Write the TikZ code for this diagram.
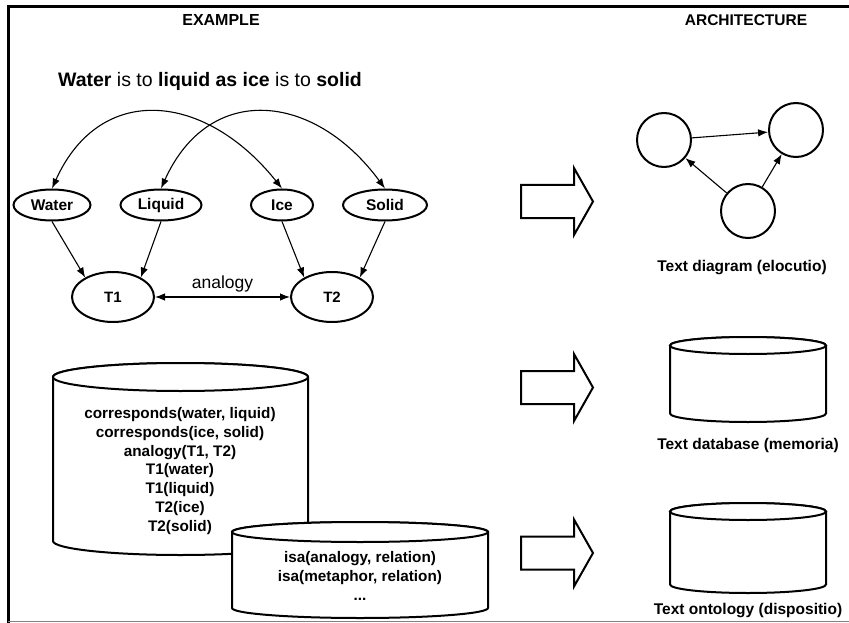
\documentclass[tikz,border=0pt]{standalone}
\usepackage{fontspec}
\setmainfont{Liberation Sans}
\usetikzlibrary{arrows.meta,shapes.geometric}

\begin{document}
\begin{tikzpicture}[x=1pt, y=-1pt,
    concept/.style={ellipse, draw, line width=2pt, inner sep=0pt, minimum height=31pt, font=\fontsize{15.5}{17}\selectfont\bfseries},
    term/.style={ellipse, draw, line width=2pt, inner sep=0pt, minimum width=82pt, minimum height=50pt, font=\fontsize{15}{17}\selectfont\bfseries},
    blob/.style={circle, draw, line width=2pt, inner sep=0pt, minimum size=54pt},
    link/.style={-{Latex[length=10pt, width=7.5pt]}, line width=1.1pt},
    twolink/.style={{Latex[length=10pt, width=7.5pt]}-{Latex[length=10pt, width=7.5pt]}, line width=1.1pt},
    blockarrow/.style={draw, line width=2pt, fill=white},
    cyl/.style={draw, line width=2pt, fill=white},
    caption/.style={font=\fontsize{15.5}{18}\selectfont\bfseries},
    facts/.style={align=center, font=\fontsize{15.3}{18.7}\selectfont\bfseries}]
    \useasboundingbox (0,0) rectangle (849,623);

    % frame
    \draw[line width=3pt] (8,623) -- (8,7) -- (849,7);
    \draw[gray, line width=1pt] (8,621) -- (849,621);

    \node[caption, font=\fontsize{16}{18}\selectfont\bfseries] (exhead) at (221,20) {EXAMPLE};
    \node[caption] (archhead) at (746,20) {ARCHITECTURE};
    \node[font=\fontsize{19.5}{22}\selectfont] (sentence) at (210,81) {\textbf{Water} is to \textbf{liquid as ice} is to \textbf{solid}};

    % analogy graph
    \node[concept, minimum width=77pt] (water) at (52,205) {Water};
    \node[concept, minimum width=81pt] (liquid) at (161,205) {Liquid};
    \node[concept, minimum width=62pt] (ice) at (282,205) {Ice};
    \node[concept, minimum width=84pt] (solid) at (385,205) {Solid};
    \node[term] (t1) at (113,297) {T1};
    \node[term] (t2) at (332,297) {T2};

    \draw[twolink] (water.north) .. controls (100,82) and (205,92) .. (ice.north);
    \draw[twolink] (liquid.north) .. controls (209,82) and (314,92) .. (solid.north);
    \draw[link] (water.south) -- (t1.145);
    \draw[link] (liquid.south) -- (t1.35);
    \draw[link] (ice.south) -- (t2.145);
    \draw[link] (solid.south) -- (t2.35);
    \draw[twolink] (t1) -- node[above=1pt, font=\fontsize{17.5}{20}\selectfont] {analogy} (t2);

    % block arrows
    \foreach \y in {201.5, 387.5, 553}
        \draw[blockarrow] (521,\y-16.5) -- (574,\y-16.5) -- (574,\y-33.5) -- (593,\y)
            -- (574,\y+33.5) -- (574,\y+16.5) -- (521,\y+16.5) -- cycle;

    % text diagram
    \node[blob] (c1) at (664,140) {};
    \node[blob] (c2) at (796,130) {};
    \node[blob] (c3) at (748,211) {};
    \draw[link] (c1) -- (c2);
    \draw[link] (c3) -- (c1);
    \draw[link] (c3) -- (c2);
    \node[caption] (diaglabel) at (742,268) {Text diagram (elocutio)};

    % cylinders
    \foreach \xa/\xb/\ya/\yb/\r in {53/308/377/541/14, 232/488/532/608/10, 670/826/345.5/413.5/8.5, 670/826/511.5/584.5/8.5} {
        \draw[cyl] (\xa,\ya) -- (\xa,\yb) arc[start angle=180, end angle=0, x radius={(\xb-\xa)/2}, y radius=\r]
            -- (\xb,\ya) arc[start angle=0, end angle=-180, x radius={(\xb-\xa)/2}, y radius=\r] -- cycle;
        \draw[cyl] ({(\xa+\xb)/2},\ya) ellipse[x radius={(\xb-\xa)/2}, y radius=\r];
    }
    \node[facts] (factsdb) at (180,471) {corresponds(water, liquid)\\corresponds(ice, solid)\\analogy(T1, T2)\\T1(water)\\T1(liquid)\\T2(ice)\\T2(solid)};
    \node[facts] (ontofacts) at (360,576) {isa(analogy, relation)\\isa(metaphor, relation)\\...};
    \node[caption] (dblabel) at (748,445) {Text database (memoria)};
    \node[caption] (ontolabel) at (748,611) {Text ontology (dispositio)};
\end{tikzpicture}
\end{document}
